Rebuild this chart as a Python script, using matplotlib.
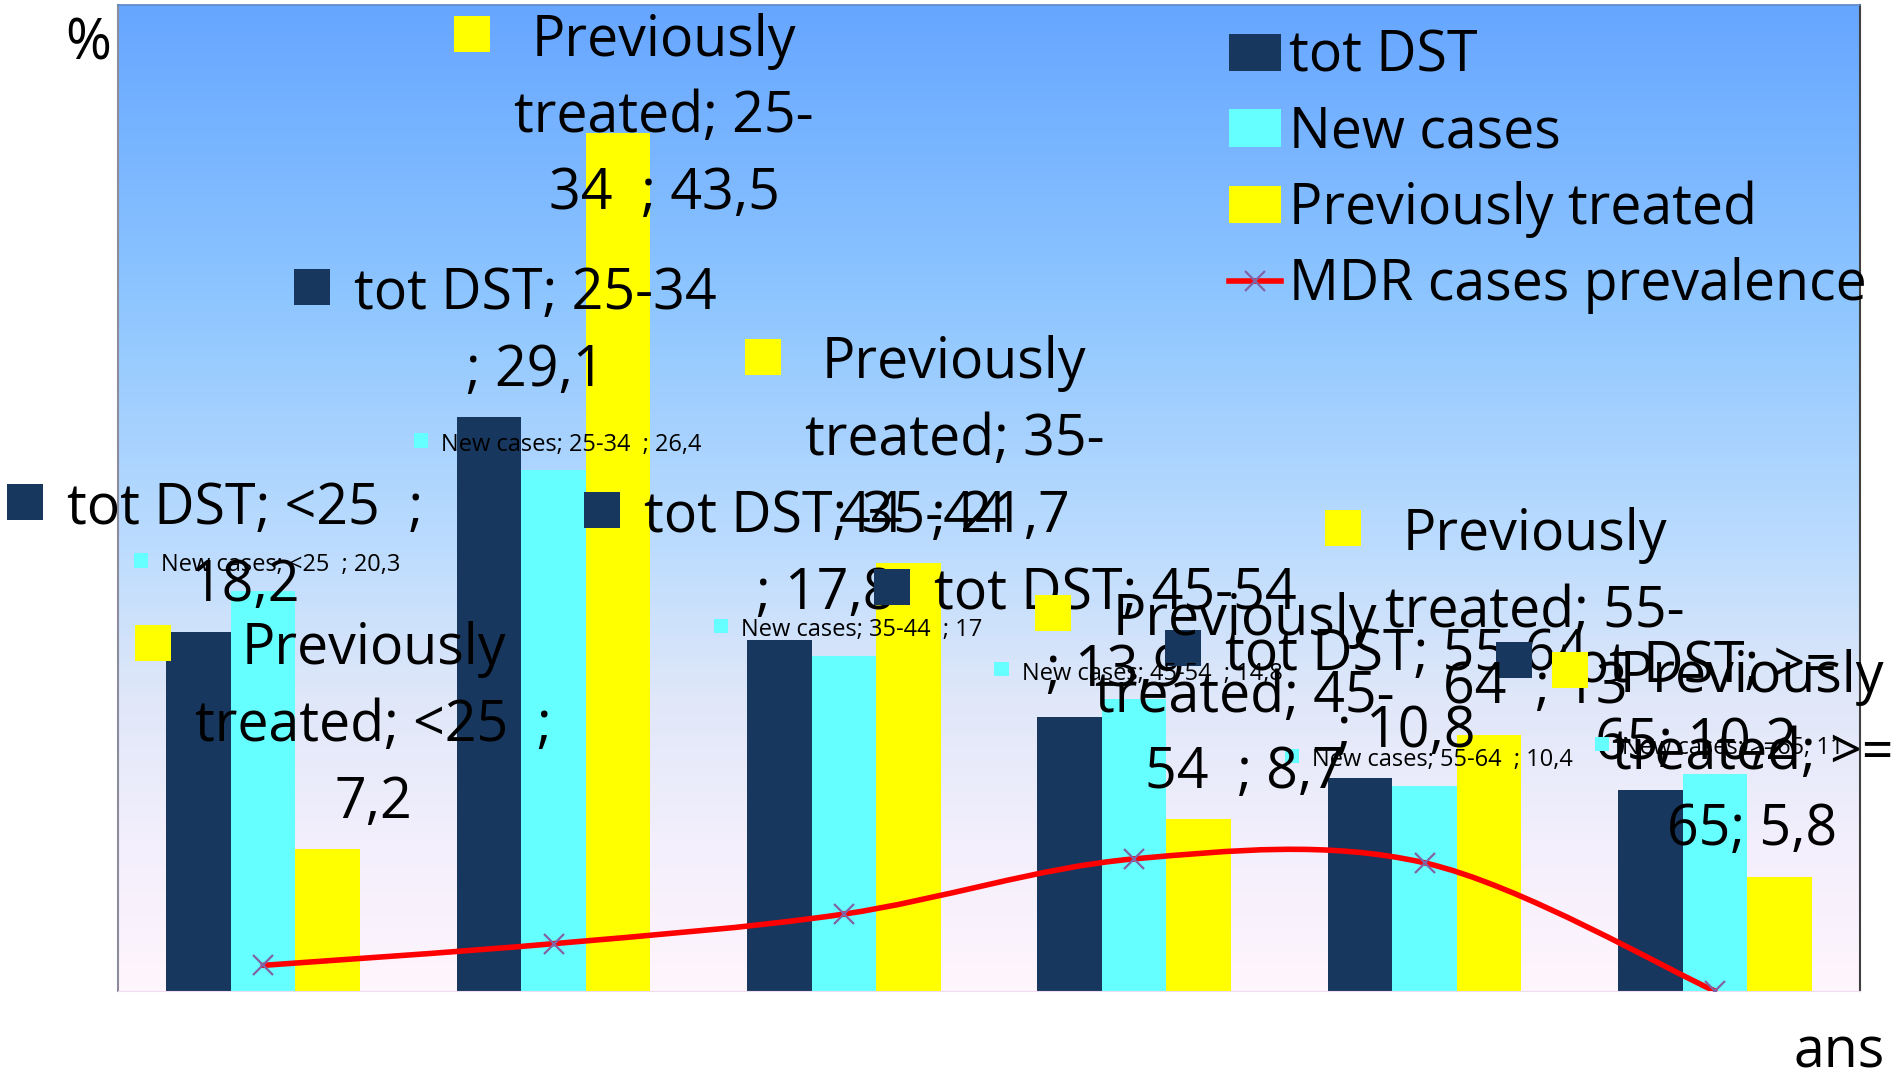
import numpy as np
import matplotlib
matplotlib.use('Agg')
from matplotlib import pyplot as plt, colors
from matplotlib.path import Path
from matplotlib.patches import PathPatch, Rectangle
from matplotlib.lines import Line2D
from matplotlib.transforms import IdentityTransform

plt.rcParams['font.family'] = ['Open Sans', 'DejaVu Sans']

# data
age_groups = ['<25', '25-34', '35-44', '45-54', '55-64', '>=65']
tot_dst = [18.2, 29.1, 17.8, 13.9, 10.8, 10.2]
new_cases = [20.3, 26.4, 17, 14.8, 10.4, 11]
prev_treated = [7.2, 43.5, 21.7, 8.7, 13, 5.8]
mdr_prev = [1.3, 2.4, 3.9, 6.7, 6.5, 0]
series_names = ['tot DST', 'New cases', 'Previously treated']
line_name = 'MDR cases prevalence'

# data labels, wrapped the way the original wraps them ({v} = value)
tot_lines = [['tot DST; <25  ;', '{v}'],
             ['tot DST; 25-34', '; {v}'],
             ['tot DST; 35-44', '; {v}'],
             ['tot DST; 45-54', '; {v}'],
             ['tot DST; 55-64', '; {v}'],
             ['tot DST; >=', '65; {v}']]
new_lines = [['New cases; <25  ; {v}'],
             ['New cases; 25-34  ; {v}'],
             ['New cases; 35-44  ; {v}'],
             ['New cases; 45-54  ; {v}'],
             ['New cases; 55-64  ; {v}'],
             ['New cases; >=65; {v}']]
prev_lines = [['Previously', 'treated; <25  ;', '{v}'],
              ['Previously', 'treated; 25-', '34  ; {v}'],
              ['Previously', 'treated; 35-', '44  ; {v}'],
              ['Previously', 'treated; 45-', '54  ; {v}'],
              ['Previously', 'treated; 55-', '64  ; {v}'],
              ['Previously', 'treated; >=', '65; {v}']]

c_tot = '#17375e'
c_new = '#66ffff'
c_prev = '#ffff00'
c_mark = '#7f63a6'

W, H = 1893, 1081
fig = plt.figure(figsize=(W / 100, H / 100), dpi=100)
ax = fig.add_axes([118 / W, 1 - 991 / H, 1742 / W, 986 / H])

# background gradient of the plot area
bg = colors.LinearSegmentedColormap.from_list('bg', [(0, '#fff5fd'), (0.15, '#f3effc'), (0.3, '#dfe7f9'),
                                                     (0.45, '#bcdcfe'), (0.7, '#8ec6ff'), (1, '#66a6ff')])
ax.imshow(np.linspace(0, 1, 256).reshape(-1, 1), cmap=bg, origin='lower', extent=[0, 1, 0, 1],
          transform=ax.transAxes, aspect='auto', zorder=0)

x = np.arange(len(age_groups))
w = 1 / 4.5
b1 = ax.bar(x - w, tot_dst, w, color=c_tot, zorder=2)
b2 = ax.bar(x, new_cases, w, color=c_new, zorder=2)
b3 = ax.bar(x + w, prev_treated, w, color=c_prev, zorder=2)

# smoothed line (bezier through the points, like the spreadsheet does)
pts = np.column_stack([x, mdr_prev]).astype(float)
verts = [pts[0]]
codes = [Path.MOVETO]
n = len(pts)
for i in range(n - 1):
    p0 = pts[max(i - 1, 0)]
    p1 = pts[i]
    p2 = pts[i + 1]
    p3 = pts[min(i + 2, n - 1)]
    verts += [p1 + (p2 - p0) / 6, p2 - (p3 - p1) / 6, p2]
    codes += [Path.CURVE4] * 3
ax.add_patch(PathPatch(Path(verts, codes), fill=False, edgecolor='red', lw=4, zorder=3, capstyle='round'))
ax.plot(x, mdr_prev, ls='none', marker='x', ms=14, mew=1.6, color=c_mark, zorder=4)

ax.set_xlim(-0.5, len(age_groups) - 0.5)
ax.set_ylim(0, 50)
ax.set_xticks([])
ax.set_yticks([])
ax.spines['left'].set_color('#8c8c9c')
ax.spines['left'].set_linewidth(1.5)
ax.spines['top'].set_color('#5b87c7')
ax.spines['top'].set_linewidth(1.2)
ax.spines['right'].set_color('#404040')
ax.spines['right'].set_linewidth(1.5)
ax.spines['bottom'].set_color('#f0dcf0')

mdr_handle = Line2D([], [], color='red', lw=4, marker='x', ms=14, mew=1.6, markeredgecolor=c_mark)
ax.legend([b1, b2, b3, mdr_handle], series_names + [line_name], loc='upper left',
          bbox_to_anchor=(0.638, 0.976), frameon=False, fontsize=40, handlelength=0.92,
          handleheight=0.65, handletextpad=0.15, labelspacing=0.34, borderpad=0, borderaxespad=0)

fig.text(88, H - 60, '%', ha='center', va='baseline', fontsize=40, transform=IdentityTransform())
fig.text(1839, H - 1068, 'ans', ha='center', va='baseline', fontsize=40, transform=IdentityTransform())

fig.canvas.draw()
renderer = fig.canvas.get_renderer()


def fmt(v):
    return ('%g' % v).replace('.', ',')


zo = [10]


def put_label(xd, yd, lines, color, size, dx, lift, pitch, key, gap, half_cap):
    bx, by = ax.transData.transform((xd, yd))
    n = len(lines)
    cx = bx + dx
    centers = [by + lift + (n - 1 - i) * pitch for i in range(n)]
    top_limit = H - 36
    if centers[0] > top_limit:
        s = centers[0] - top_limit
        centers = [c - s for c in centers]
    texts = []
    for line, cy in zip(lines, centers):
        t = fig.text(cx, cy - half_cap, line, ha='center', va='baseline', fontsize=size,
                     transform=IdentityTransform(), zorder=zo[0])
        texts.append(t)
    ext = [t.get_window_extent(renderer) for t in texts]
    right = max(e.x1 for e in ext)
    s = max(0, right - W)
    for t in texts:
        t.set_x(cx - s)
    left = min(e.x0 for e in ext) - s
    sq = Rectangle((left - gap - key, centers[0] - key / 2 + 2), key, key, facecolor=color,
                   edgecolor='none', transform=IdentityTransform(), zorder=zo[0])
    fig.add_artist(sq)
    zo[0] += 1


for i in range(len(age_groups)):
    put_label(x[i] - w, tot_dst[i], [l.format(v=fmt(tot_dst[i])) for l in tot_lines[i]],
              c_tot, 40, 46, 51, 76.7, 36, 24, 19.8)
for i in range(len(age_groups)):
    put_label(x[i], new_cases[i], [l.format(v=fmt(new_cases[i])) for l in new_lines[i]],
              c_new, 17, 18, 28, 0, 14.5, 13, 8.4)
for i in range(len(age_groups)):
    put_label(x[i] + w, prev_treated[i], [l.format(v=fmt(prev_treated[i])) for l in prev_lines[i]],
              c_prev, 40, 46, 51, 76.7, 36, 24, 19.8)

fig.savefig('out.png', dpi=100)
